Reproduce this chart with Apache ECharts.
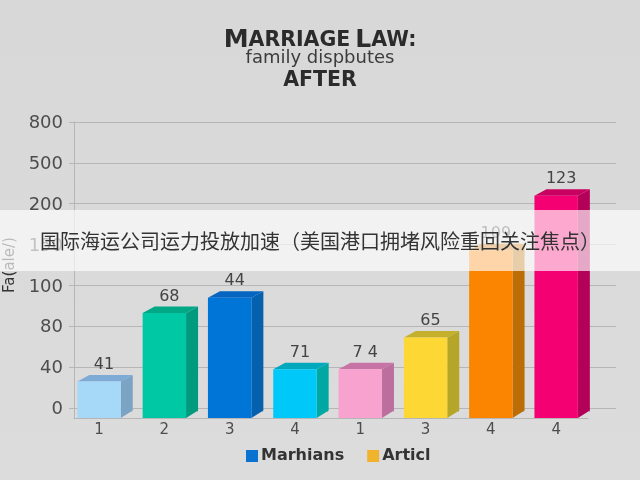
<!DOCTYPE html>
<html><head><meta charset="utf-8">
<style>html,body{margin:0;padding:0;background:#dadada}#c{width:640px;height:480px}</style>
<script src="https://cdn.jsdelivr.net/npm/echarts@6/dist/echarts.min.js"></script>
</head><body><div id="c"></div>
<script>
const categories = ['1','2','3','4','1','3','4','4'];
const tickLabels = [0,40,80,100,150,200,500,800];
const barValues = [26,86.5,94,38,38,69,143,259];
const dataLabels = ['41','68','44','71','7 4','65','109','123'];
const frontColors = ['#a6d8f7','#00c8a5','#0075d8','#00c8f8','#f8a2cf','#fdd835','#fb8500','#f50072'];
const sideColors  = ['#7ba3c4','#009a7e','#0560ad','#00a8a4','#bc6f9e','#b5a528','#bd6d05','#b30058'];
const topColors   = ['#7dabd6','#00a886','#0565c0','#00a8bd','#c773a5','#c4b02a','#c9770a','#c80060'];
const legendNames = ['Marhians','Articl'];
const legendColors = ['#0a72d0','#efb32d'];
const titleLines = ['family dispbutes','AFTER'];
const bannerText = '国际海运公司运力投放加速（美国港口拥堵风险重回关注焦点）';

// the axis is evenly spaced by tick, not by value: map a value to its tick position
function tickPos(v){
  for(let i=1;i<tickLabels.length;i++){
    if(v<=tickLabels[i]) return i-1+(v-tickLabels[i-1])/(tickLabels[i]-tickLabels[i-1]);
  }
  return tickLabels.length-1;
}
const barBase = -10/40.86;
const gridCol='#b6b6b6', txt='#4d4d4d', sans='"DejaVu Sans"';
const chart = echarts.init(document.getElementById('c'),null,{renderer:'canvas'});
chart.setOption({
  animation:false,
  backgroundColor:new echarts.graphic.LinearGradient(0,0,0,1,[{offset:0,color:'#d8d8d8'},{offset:1,color:'#dcdcdc'}]),
  title:[
    {text:'{b|M}{s|ARRIAGE} {b|L}{s|AW:}',left:'center',top:23,textStyle:{rich:{
      b:{fontFamily:sans,fontWeight:'bold',fontSize:25,color:'#2b2b2b'},
      s:{fontFamily:sans,fontWeight:'bold',fontSize:20.5,color:'#2b2b2b'}}}},
    {text:titleLines[0],left:'center',top:44,textStyle:{fontFamily:sans,fontWeight:'normal',fontSize:18,color:'#3c3c3c'}},
    {text:titleLines[1],left:'center',top:65,textStyle:{fontFamily:sans,fontWeight:'bold',fontSize:20.5,color:'#2b2b2b'}}
  ],
  legend:{data:legendNames,left:241,top:443,itemWidth:12,itemHeight:12,itemGap:23,icon:'rect',
    textStyle:{fontFamily:sans,fontWeight:'bold',fontSize:16,color:'#333',padding:[0,0,0,-2]}},
  grid:[
    {left:74,right:24,top:122,height:286,outerBoundsMode:'none'},
    {left:66.4,width:522.4,top:122,height:296,outerBoundsMode:'none'},
    {left:74,width:514,top:122,height:296,outerBoundsMode:'none'}
  ],
  xAxis:[
    {gridIndex:0,type:'value',min:0,max:1,show:false},
    {gridIndex:1,type:'category',data:categories,
      axisLine:{show:false},
      axisTick:{show:true,length:4,lineStyle:{color:gridCol},interval:(i)=>i>0},
      axisLabel:{fontFamily:sans,fontSize:15,color:txt,margin:5},splitLine:{show:false}},
    {gridIndex:2,type:'value',min:0,max:1,interval:1,axisLine:{lineStyle:{color:gridCol,width:1}},
      axisTick:{show:false},axisLabel:{show:false},splitLine:{show:false}}
  ],
  yAxis:[
    {gridIndex:0,type:'value',min:0,max:7,interval:1,
      name:'Fa(ale/)',nameLocation:'middle',nameRotate:90,nameGap:44,
      nameTextStyle:{fontFamily:sans,fontSize:15,color:'#333',padding:[0,0,3,0]},
      axisLine:{show:false},axisTick:{show:true,length:5,lineStyle:{color:gridCol}},
      axisLabel:{fontFamily:sans,fontSize:18,color:txt,margin:11,verticalAlign:'top',lineHeight:3,formatter:v=>tickLabels[v]},
      splitLine:{show:true,lineStyle:{color:gridCol,width:1.2}}},
    {gridIndex:1,type:'value',min:barBase,max:7,show:false,splitLine:{show:false}},
    {gridIndex:2,type:'value',min:0,max:1,interval:1,axisLine:{show:true,lineStyle:{color:gridCol,width:1}},
      axisTick:{show:false},axisLabel:{show:false},splitLine:{show:false}}
  ],
  series:[
    {name:legendNames[0],type:'bar',xAxisIndex:0,yAxisIndex:0,data:[],itemStyle:{color:legendColors[0]}},
    {name:legendNames[1],type:'bar',xAxisIndex:0,yAxisIndex:0,data:[],itemStyle:{color:legendColors[1]}},
    {type:'custom',xAxisIndex:1,yAxisIndex:1,clip:false,z:5,
      encode:{x:0,y:1},
      data:barValues.map((v,i)=>[i,tickPos(v)]),
      renderItem(params,api){
        const i=api.value(0);
        const top=api.coord([i,api.value(1)]);
        const base=api.coord([i,barBase]);
        const w=api.size([1,0])[0]*0.665, dx=12, dy=6.5;
        const l=top[0]-w/2, r=top[0]+w/2, t=top[1], b=base[1];
        return {type:'group',children:[
          {type:'polygon',shape:{points:[[r,t],[r+dx,t-dy],[r+dx,b-dy-1],[r,b]]},style:{fill:sideColors[i]}},
          {type:'polygon',shape:{points:[[l,t],[l+dx,t-dy],[r+dx,t-dy],[r,t]]},style:{fill:topColors[i]}},
          {type:'rect',shape:{x:l,y:t,width:w,height:b-t},style:{fill:frontColors[i]}},
          {type:'text',style:{text:dataLabels[i],x:top[0]+5,y:t-dy-10,align:'center',verticalAlign:'middle',
            fontFamily:sans,fontSize:16,fill:'#444'}}
        ]};
      }
    }
  ],
  graphic:[
    {type:'rect',z:100,shape:{x:0,y:210,width:640,height:61},style:{fill:'rgba(255,255,255,0.66)'}},
    {type:'text',z:101,style:{text:bannerText,x:320,y:241,align:'center',verticalAlign:'middle',
      fontFamily:'"Noto Sans CJK SC"',fontSize:20,fill:'#333'}}
  ]
});
</script></body></html>
